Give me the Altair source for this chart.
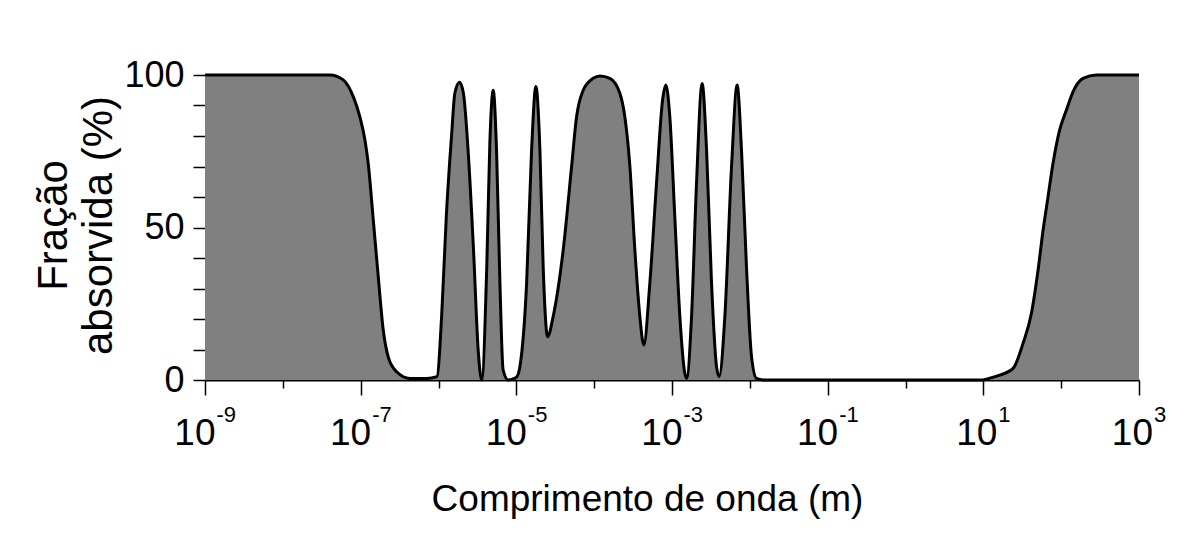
import altair as alt
import pandas as pd

# Absorption curve (x as log10 of wavelength in m, y in %)
exps = [-9.0, -7.5, -7.395, -7.224, -7.095, -7.010, -6.945, -6.903, -6.838, -6.774, -6.710, -6.646, -6.538, -6.367, -6.153,
        -6.02, -5.96, -5.90, -5.83, -5.79, -5.73, -5.68, -5.62, -5.55, -5.49, -5.445,
        -5.38, -5.34, -5.297, -5.254, -5.211, -5.17, -5.105, -5.05,
        -4.995, -4.954, -4.868, -4.804, -4.749, -4.697, -4.655, -4.598,
        -4.527, -4.398, -4.290, -4.226, -4.141, -4.013, -3.927, -3.798, -3.670, -3.606, -3.541, -3.477, -3.413, -3.362,
        -3.285, -3.199, -3.121, -3.079, -3.028, -2.964, -2.899, -2.835, -2.813,
        -2.749, -2.685, -2.613, -2.556, -2.492, -2.428, -2.394,
        -2.321, -2.235, -2.163, -2.107, -2.043, -1.978, -1.914, -1.83,
        1.0, 1.040, 1.211, 1.382, 1.510, 1.618, 1.703, 1.767, 1.831, 1.895, 1.981, 2.067, 2.152, 2.280, 2.452, 3.0]
vals = [100, 100, 100, 98.4, 92.9, 86.3, 78.7, 71, 52.5, 33.9, 16.4, 7.6, 2.7, 0.5, 0.5,
        1.1, 20.8, 53.5, 80.9, 94, 97.6, 94, 75.4, 42.6, 9.8, 0,
        37, 78, 95, 75, 32, 3.3, 0, 0.3,
        1, 4.4, 31.7, 75.4, 96.2, 75.4, 37, 14.2,
        20.8, 42.6, 70, 86.3, 95, 98.9, 99.7, 98.9, 94, 86.3, 70, 42.6, 20.8, 11.5,
        31.7, 64.5, 91.8, 96.7, 86.3, 53.5, 20.8, 2.2, 0.5,
        20.8, 64.5, 97.2, 75.4, 31.7, 4.4, 1.1,
        20.8, 70, 96.7, 75.4, 37, 7.6, 0.5, 0,
        0, 0.3, 1.6, 3.8, 12, 21.9, 36, 49, 60, 71, 82, 88.5, 94.5, 98.9, 100, 100]

tick_exps = list(range(-9, 4))
label_exps_neg = [-9, -7, -5, -3, -1]
label_exps_pos = [1, 3]
y_ticks = list(range(0, 101, 10))

FONT = "Liberation Sans"
XTITLE = "Comprimento de onda (m)"

df = pd.DataFrame({"wl": [10.0 ** e for e in exps], "v": vals})
neg = pd.DataFrame({"wl": [10.0 ** e for e in label_exps_neg], "base": "10",
                    "exp": [str(e) for e in label_exps_neg]})
pos = pd.DataFrame({"wl": [10.0 ** e for e in label_exps_pos], "base": "10",
                    "exp": [str(e) for e in label_exps_pos]})

xscale = alt.Scale(type="log", domain=[1e-9, 1e3], nice=False)

area = alt.Chart(df).mark_area(
    color="#808080", interpolate="monotone", opacity=1,
    line={"color": "black", "strokeWidth": 3}
).encode(
    x=alt.X("wl:Q", scale=xscale, title=XTITLE,
            axis=alt.Axis(values=[10.0 ** e for e in tick_exps], labels=False, grid=False,
                          domainColor="black", domainWidth=2, tickColor="black", tickWidth=1.5,
                          tickSize={"condition": {"test": "abs(round(log(datum.value)/LN10)) % 2 == 1", "value": 15}, "value": 8},
                          titleFont=FONT, titleFontSize=37, titleFontWeight="normal", titleColor="black",
                          titleX=442, titleY=130, titleAlign="center", titleBaseline="alphabetic")),
    y=alt.Y("v:Q", scale=alt.Scale(domain=[0, 100], nice=False), title=["Fração", "absorvida (%)"],
            axis=alt.Axis(values=y_ticks, grid=False, domain=False,
                          labelExpr="datum.value % 50 === 0 ? datum.label : ''",
                          labelFont=FONT, labelFontSize=36, labelColor="black", labelPadding=9,
                          tickColor="black", tickWidth=1.5, tickSize=12,
                          titleFont=FONT, titleFontSize=42, titleFontWeight="normal", titleColor="black",
                          titleAngle=270, titleX=-172, titleY=150, titleAlign="center",
                          titleBaseline="top", titleLineHeight=45)),
)


def labels(data, dx):
    base = alt.Chart(data).mark_text(align="right", baseline="alphabetic", dx=dx,
                                     font=FONT, fontSize=37, color="black").encode(
        x=alt.X("wl:Q", scale=xscale, title=XTITLE), y=alt.value(370), text="base:N")
    sup = alt.Chart(data).mark_text(align="left", baseline="alphabetic", dx=dx + 1,
                                    font=FONT, fontSize=22, color="black").encode(
        x=alt.X("wl:Q", scale=xscale, title=XTITLE), y=alt.value(347), text="exp:N")
    return base + sup


chart = alt.layer(area, labels(neg, 10.5), labels(pos, 14)).properties(
    width=934, height=305,
    padding={"left": 197, "top": 67, "right": 53, "bottom": 170},
    autosize=alt.AutoSizeParams(type="none"),
    background="white",
).configure_view(stroke=None)

chart.save("out.html", embed_options={"renderer": "svg", "actions": False})
